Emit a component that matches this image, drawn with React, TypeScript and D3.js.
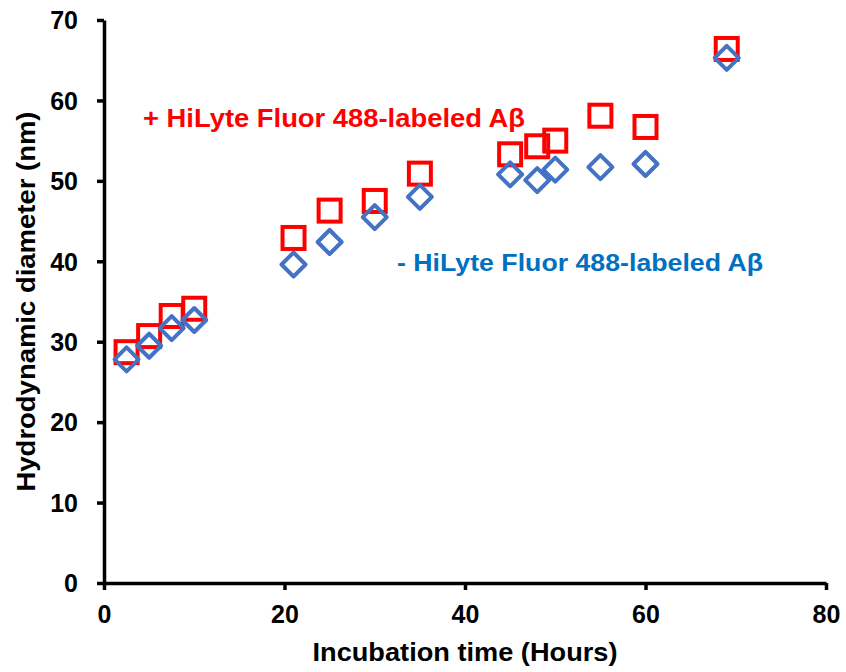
import React, { useRef, useEffect } from 'react';
import * as d3 from 'd3';

// incubation time (hours)
const hours = [2.5, 5, 7.5, 10, 21, 25, 30, 35, 45, 48, 50, 55, 60, 69];
// + HiLyte Fluor 488-labeled Abeta
const labeledDiam = [28.7, 30.7, 33.2, 34.1, 42.9, 46.3, 47.5, 50.9, 53.3, 54.3, 55.0, 58.1, 56.7, 66.4];
// - HiLyte Fluor 488-labeled Abeta
const unlabeledDiam = [27.8, 29.5, 31.7, 32.7, 39.6, 42.4, 45.5, 48.0, 50.8, 50.1, 51.4, 51.7, 52.1, 65.3];
const xTicks = [0, 20, 40, 60, 80];
const yTicks = [0, 10, 20, 30, 40, 50, 60, 70];

const FONT = 'Liberation Sans, Arial, sans-serif';

function App() {
  const svgRef = useRef<SVGSVGElement>(null);

  useEffect(() => {
    const width = 846;
    const height = 672;
    const margin = { top: 20, right: 20, bottom: 89, left: 104 };

    const svg = d3.select(svgRef.current)
      .attr('width', width)
      .attr('height', height);
    svg.selectAll('*').remove();

    const x = d3.scaleLinear().domain([0, 80]).range([margin.left, 826]);
    const y = d3.scaleLinear().domain([0, 70]).range([height - margin.bottom, margin.top]);

    // y axis
    const yAxis = svg.append('g')
      .attr('transform', `translate(${x(0)},0)`)
      .call(d3.axisLeft(y).tickValues(yTicks).tickSize(7).tickSizeOuter(0));
    // x axis
    const xAxis = svg.append('g')
      .attr('transform', `translate(0,${y(0)})`)
      .call(d3.axisBottom(x).tickValues(xTicks).tickSize(7).tickSizeOuter(0));

    [yAxis, xAxis].forEach(ax => {
      ax.select('.domain').attr('stroke', '#000').attr('stroke-width', 3.5);
      ax.selectAll('.tick line').attr('stroke', '#000').attr('stroke-width', 3.5);
      ax.selectAll('.tick text')
        .attr('fill', '#000')
        .style('font-family', FONT)
        .style('font-size', '25px')
        .style('font-weight', 'bold');
    });
    yAxis.selectAll('.tick text').attr('x', -26).attr('dy', '0.35em');
    xAxis.selectAll('.tick text').attr('y', 22);

    // axis titles
    svg.append('text')
      .attr('x', 465)
      .attr('y', 661)
      .attr('text-anchor', 'middle')
      .attr('textLength', 305)
      .attr('lengthAdjust', 'spacingAndGlyphs')
      .style('font-family', FONT)
      .style('font-size', '26px')
      .style('font-weight', 'bold')
      .text('Incubation time (Hours)');

    svg.append('text')
      .attr('transform', `translate(35,${(y(0) + y(70)) / 2}) rotate(-90)`)
      .attr('text-anchor', 'middle')
      .attr('textLength', 380)
      .attr('lengthAdjust', 'spacingAndGlyphs')
      .style('font-family', FONT)
      .style('font-size', '26px')
      .style('font-weight', 'bold')
      .text('Hydrodynamic diameter (nm)');

    const pts = hours.map((h, i) => ({ h, a: labeledDiam[i], b: unlabeledDiam[i] }));

    // red squares
    const s = 22;
    svg.append('g').selectAll('rect')
      .data(pts)
      .enter()
      .append('rect')
      .attr('x', d => x(d.h) - s / 2)
      .attr('y', d => y(d.a) - s / 2)
      .attr('width', s)
      .attr('height', s)
      .attr('fill', 'none')
      .attr('stroke', '#FF0000')
      .attr('stroke-width', 4);

    // blue diamonds
    const r = 12;
    svg.append('g').selectAll('path')
      .data(pts)
      .enter()
      .append('path')
      .attr('d', d => {
        const cx = x(d.h), cy = y(d.b);
        return `M${cx},${cy - r}L${cx + r},${cy}L${cx},${cy + r}L${cx - r},${cy}Z`;
      })
      .attr('fill', 'none')
      .attr('stroke', '#4472C4')
      .attr('stroke-width', 4)
      .attr('stroke-linejoin', 'round');

    // labels
    svg.append('text')
      .attr('x', 143)
      .attr('y', 127)
      .attr('fill', '#FF0000')
      .attr('textLength', 382)
      .attr('lengthAdjust', 'spacingAndGlyphs')
      .style('font-family', FONT)
      .style('font-size', '25px')
      .style('font-weight', 'bold')
      .text('+ HiLyte Fluor 488-labeled Aβ');

    svg.append('text')
      .attr('x', 397)
      .attr('y', 271)
      .attr('fill', '#0070C0')
      .attr('textLength', 366)
      .attr('lengthAdjust', 'spacingAndGlyphs')
      .style('font-family', FONT)
      .style('font-size', '24px')
      .style('font-weight', 'bold')
      .text('- HiLyte Fluor 488-labeled Aβ');
  }, []);

  return (
    <div style={{ position: 'absolute', left: 0, top: 0, width: 846, height: 672 }}>
      <svg ref={svgRef} style={{ display: 'block', overflow: 'visible' }}></svg>
    </div>
  );
}

export default App;
